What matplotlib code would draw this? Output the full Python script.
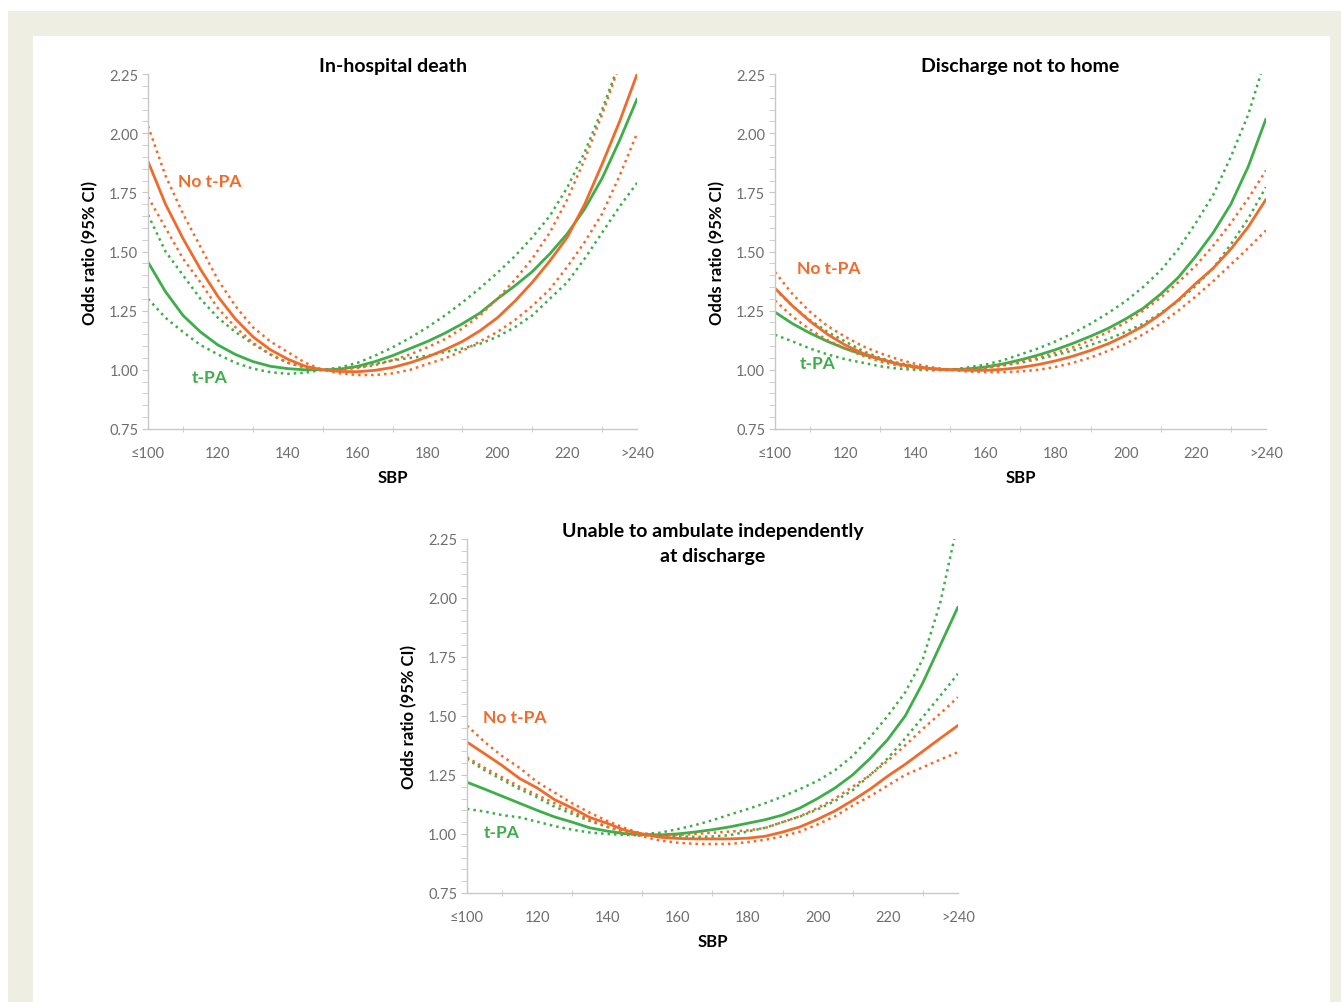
"""
Odds ratio vs SBP curves for t-PA / no t-PA, three outcomes.
"""
import numpy as np
import matplotlib.pyplot as plt
from matplotlib.patches import Rectangle
from matplotlib.transforms import offset_copy

plt.rcParams['font.family'] = ['Lato', 'DejaVu Sans']

ORANGE = '#F26A2A'
GREEN = '#3DAE49'

sbp = [100, 105, 110, 115, 120, 125, 130, 135, 140, 145, 150, 155, 160, 165, 170,
       175, 180, 185, 190, 195, 200, 205, 210, 215, 220, 225, 230, 235, 240]
xtick_vals = [100, 120, 140, 160, 180, 200, 220, 240]
xtick_labels = ['≤100', '120', '140', '160', '180', '200', '220', '>240']
ytick_vals = [0.75, 1.00, 1.25, 1.50, 1.75, 2.00, 2.25]

# In-hospital death
death_no_tpa = [1.88, 1.70, 1.555, 1.425, 1.31, 1.215, 1.14, 1.085, 1.045, 1.015, 1.0, 0.993, 0.992, 0.998, 1.01,
                1.03, 1.055, 1.085, 1.12, 1.165, 1.22, 1.29, 1.37, 1.46, 1.56, 1.70, 1.87, 2.05, 2.25]
death_no_tpa_hi = [2.03, 1.82, 1.66, 1.52, 1.38, 1.27, 1.18, 1.12, 1.075, 1.03, 1.0, 1.0, 1.008, 1.02, 1.04,
                   1.065, 1.095, 1.13, 1.175, 1.23, 1.30, 1.38, 1.47, 1.58, 1.72, 1.89, 2.08, 2.29, 2.55]
death_no_tpa_lo = [1.73, 1.60, 1.47, 1.37, 1.26, 1.18, 1.115, 1.065, 1.03, 1.01, 1.0, 0.985, 0.978, 0.978, 0.985,
                   1.0, 1.025, 1.048, 1.08, 1.12, 1.16, 1.21, 1.27, 1.34, 1.435, 1.54, 1.66, 1.82, 2.00]
death_tpa = [1.455, 1.33, 1.23, 1.16, 1.105, 1.065, 1.035, 1.015, 1.005, 1.0, 1.0, 1.003, 1.015, 1.035, 1.06,
             1.09, 1.12, 1.155, 1.195, 1.24, 1.30, 1.355, 1.415, 1.49, 1.575, 1.68, 1.81, 1.97, 2.145]
death_tpa_hi = [1.655, 1.50, 1.40, 1.30, 1.22, 1.16, 1.11, 1.065, 1.03, 1.01, 1.0, 1.01, 1.03, 1.06, 1.095,
                1.135, 1.18, 1.23, 1.285, 1.345, 1.41, 1.48, 1.56, 1.65, 1.77, 1.92, 2.10, 2.30, 2.55]
death_tpa_lo = [1.30, 1.22, 1.16, 1.105, 1.065, 1.03, 1.005, 0.99, 0.983, 0.988, 1.0, 1.005, 1.012, 1.025, 1.04,
                1.05, 1.06, 1.075, 1.09, 1.11, 1.14, 1.18, 1.23, 1.30, 1.37, 1.47, 1.58, 1.69, 1.79]

# Discharge not to home
home_no_tpa = [1.345, 1.27, 1.205, 1.15, 1.105, 1.07, 1.045, 1.025, 1.012, 1.004, 1.0, 0.998, 0.998, 1.002, 1.01,
               1.022, 1.038, 1.058, 1.082, 1.11, 1.145, 1.185, 1.235, 1.295, 1.365, 1.43, 1.51, 1.605, 1.72]
home_no_tpa_hi = [1.413, 1.32, 1.245, 1.185, 1.14, 1.10, 1.07, 1.045, 1.025, 1.01, 1.0, 1.003, 1.01, 1.02, 1.035,
                  1.052, 1.072, 1.095, 1.125, 1.16, 1.20, 1.25, 1.305, 1.37, 1.44, 1.525, 1.62, 1.725, 1.842]
home_no_tpa_lo = [1.293, 1.225, 1.17, 1.125, 1.09, 1.06, 1.035, 1.018, 1.006, 1.0, 1.0, 0.993, 0.99, 0.99, 0.993,
                  1.0, 1.012, 1.03, 1.052, 1.08, 1.11, 1.15, 1.195, 1.25, 1.31, 1.375, 1.445, 1.515, 1.589]
home_tpa = [1.244, 1.195, 1.155, 1.12, 1.09, 1.065, 1.045, 1.025, 1.012, 1.004, 1.0, 1.004, 1.012, 1.025, 1.042,
            1.062, 1.085, 1.112, 1.142, 1.175, 1.215, 1.26, 1.32, 1.39, 1.48, 1.58, 1.70, 1.86, 2.06]
home_tpa_hi = [1.34, 1.27, 1.21, 1.16, 1.12, 1.08, 1.05, 1.03, 1.015, 1.005, 1.0, 1.01, 1.022, 1.04, 1.065,
               1.09, 1.12, 1.155, 1.195, 1.24, 1.29, 1.35, 1.42, 1.51, 1.62, 1.74, 1.90, 2.08, 2.32]
home_tpa_lo = [1.148, 1.12, 1.09, 1.065, 1.045, 1.03, 1.015, 1.005, 1.0, 0.998, 1.0, 1.002, 1.008, 1.018, 1.03,
               1.045, 1.062, 1.082, 1.105, 1.13, 1.16, 1.195, 1.24, 1.29, 1.355, 1.43, 1.53, 1.64, 1.772]

# Unable to ambulate independently at discharge
amb_no_tpa = [1.389, 1.34, 1.29, 1.235, 1.195, 1.145, 1.11, 1.07, 1.045, 1.016, 1.0, 0.986, 0.981, 0.979, 0.979,
              0.979, 0.982, 0.99, 1.008, 1.03, 1.062, 1.098, 1.142, 1.19, 1.245, 1.295, 1.35, 1.405, 1.459]
amb_no_tpa_hi = [1.459, 1.39, 1.33, 1.28, 1.22, 1.175, 1.13, 1.09, 1.055, 1.025, 1.0, 0.993, 0.995, 1.0, 1.005,
                 1.01, 1.015, 1.025, 1.05, 1.075, 1.11, 1.15, 1.20, 1.25, 1.31, 1.375, 1.445, 1.51, 1.579]
amb_no_tpa_lo = [1.325, 1.28, 1.24, 1.20, 1.165, 1.13, 1.095, 1.06, 1.03, 1.005, 0.99, 0.972, 0.963, 0.958, 0.957,
                 0.958, 0.965, 0.975, 0.99, 1.01, 1.04, 1.075, 1.12, 1.16, 1.205, 1.25, 1.282, 1.315, 1.346]
amb_tpa = [1.219, 1.19, 1.16, 1.13, 1.10, 1.072, 1.05, 1.026, 1.012, 1.001, 0.998, 0.996, 1.0, 1.008, 1.018,
           1.03, 1.045, 1.06, 1.08, 1.11, 1.15, 1.195, 1.25, 1.32, 1.40, 1.50, 1.64, 1.80, 1.96]
amb_tpa_hi = [1.318, 1.27, 1.23, 1.19, 1.155, 1.115, 1.085, 1.055, 1.03, 1.012, 1.0, 1.005, 1.02, 1.037, 1.058,
              1.082, 1.105, 1.13, 1.158, 1.19, 1.225, 1.27, 1.33, 1.41, 1.50, 1.60, 1.74, 1.98, 2.32]
amb_tpa_lo = [1.106, 1.095, 1.08, 1.07, 1.052, 1.033, 1.018, 1.006, 1.0, 0.996, 0.994, 0.993, 0.99, 0.987, 0.989,
              0.995, 1.01, 1.026, 1.05, 1.074, 1.104, 1.14, 1.185, 1.25, 1.32, 1.405, 1.495, 1.585, 1.678]

panels = [
    dict(title='In-hospital death', rect=[0.1104, 0.5713, 0.3647, 0.3539], title_dy=9,
         no=(death_no_tpa, death_no_tpa_hi, death_no_tpa_lo),
         tpa=(death_tpa, death_tpa_hi, death_tpa_lo),
         no_lab=(108.5, 1.80), tpa_lab=(112.5, 0.97)),
    dict(title='Discharge not to home', rect=[0.5779, 0.5713, 0.3661, 0.3539], title_dy=9,
         no=(home_no_tpa, home_no_tpa_hi, home_no_tpa_lo),
         tpa=(home_tpa, home_tpa_hi, home_tpa_lo),
         no_lab=(106.2, 1.43), tpa_lab=(107.1, 1.03)),
    dict(title='Unable to ambulate independently\nat discharge', rect=[0.3482, 0.1087, 0.3661, 0.3532],
         title_dy=-4,
         no=(amb_no_tpa, amb_no_tpa_hi, amb_no_tpa_lo),
         tpa=(amb_tpa, amb_tpa_hi, amb_tpa_lo),
         no_lab=(104.5, 1.493), tpa_lab=(104.9, 1.01)),
]

fig = plt.figure(figsize=(13.41, 10.03), dpi=100)
fig.patch.set_facecolor('white')
# beige frame and white inner panel
fig.add_artist(Rectangle((8 / 1341, 0), 1 - 8 / 1341, 1 - 12 / 1003,
                         transform=fig.transFigure, facecolor='#EFEEE3', edgecolor='none', zorder=-2))
fig.add_artist(Rectangle((33 / 1341, 0), (1330 - 33) / 1341, 1 - 37 / 1003,
                         transform=fig.transFigure, facecolor='white', edgecolor='none', zorder=-1))

for p in panels:
    ax = fig.add_axes(p['rect'])
    ax.set_facecolor('none')
    for series, color in ((p['tpa'], GREEN), (p['no'], ORANGE)):
        mid, hi, lo = series
        ax.plot(sbp, hi, color=color, lw=1.8, linestyle=(0, (1, 1.6)))
        ax.plot(sbp, lo, color=color, lw=1.8, linestyle=(0, (1, 1.6)))
        ax.plot(sbp, mid, color=color, lw=2.0, solid_capstyle='round')

    ax.set_xlim(100, 240)
    ax.set_ylim(0.75, 2.25)
    ax.set_xticks(xtick_vals)
    ax.set_xticklabels(xtick_labels)
    ax.set_xticks(np.arange(110, 240, 20), minor=True)
    ax.set_yticks(ytick_vals)
    ax.set_yticklabels([f'{v:.2f}' for v in ytick_vals])
    ax.set_yticks(np.arange(0.75, 2.2501, 0.05), minor=True)

    for s in ('top', 'right'):
        ax.spines[s].set_visible(False)
    for s in ('left', 'bottom'):
        ax.spines[s].set_color('#C8C8C8')
        ax.spines[s].set_linewidth(1.0)

    ax.tick_params(axis='x', which='major', length=0, pad=12, labelsize=10.5, labelcolor='#6E6E6E')
    ax.tick_params(axis='x', which='minor', length=4, direction='inout', color='#C8C8C8')
    ax.tick_params(axis='y', which='major', length=4, color='#C8C8C8', pad=3, labelsize=10.5, labelcolor='#6E6E6E')
    ax.tick_params(axis='y', which='minor', length=4, color='#C8C8C8')

    ax.set_xlabel('SBP', fontsize=12, fontweight='bold', labelpad=7)
    ax.set_ylabel('Odds ratio (95% CI)', fontsize=12, fontweight='bold', labelpad=8)
    title_tr = offset_copy(ax.transAxes, fig=fig, x=0, y=p['title_dy'], units='dots')
    ax.text(0.5, 1.0, p['title'], transform=title_tr, ha='center', va='center',
            fontsize=14, fontweight='bold', linespacing=1.6)

    ax.text(*p['no_lab'], 'No t-PA', color=ORANGE, fontsize=12.5, fontweight='bold', va='center')
    ax.text(*p['tpa_lab'], 't-PA', color=GREEN, fontsize=12.5, fontweight='bold', va='center')

fig.savefig('out.png', dpi=100)
